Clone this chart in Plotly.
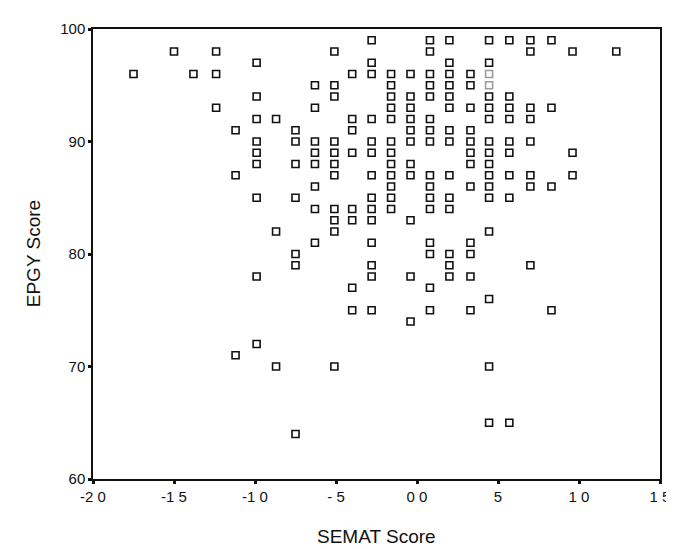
import plotly.graph_objects as go

# SEMAT score columns (z-score values) and EPGY scores observed at each
semat_columns = [-1.75, -1.50, -1.38, -1.24, -1.12, -0.99, -0.87, -0.75, -0.63, -0.51,
                 -0.40, -0.28, -0.16, -0.04, 0.08, 0.20, 0.33, 0.445, 0.57, 0.70,
                 0.83, 0.96, 1.23]
epgy_by_column = [
    [96],
    [98],
    [96],
    [98, 96, 93],
    [91, 87, 71],
    [97, 94, 92, 90, 89, 88, 85, 78, 72],
    [92, 82, 70],
    [91, 90, 88, 85, 80, 79, 64],
    [95, 93, 90, 89, 88, 86, 84, 81],
    [98, 95, 94, 90, 89, 88, 87, 84, 83, 82, 70],
    [96, 92, 91, 89, 84, 83, 77, 75],
    [99, 97, 96, 92, 90, 89, 87, 85, 84, 83, 81, 79, 78, 75],
    [96, 95, 94, 93, 92, 90, 89, 88, 87, 86, 85, 84],
    [96, 94, 93, 92, 91, 90, 88, 87, 83, 78, 74],
    [99, 98, 96, 95, 94, 92, 91, 90, 87, 86, 85, 84, 81, 80, 77, 75],
    [99, 97, 96, 95, 94, 93, 91, 90, 87, 85, 84, 80, 79, 78],
    [96, 95, 93, 91, 90, 89, 88, 86, 81, 80, 78, 75],
    [99, 97, 96, 95, 94, 93, 92, 90, 89, 88, 87, 86, 85, 82, 76, 70, 65],
    [99, 94, 93, 92, 90, 89, 87, 85, 65],
    [99, 98, 93, 92, 90, 87, 86, 79],
    [99, 93, 86, 75],
    [98, 89, 87],
    [98],
]
# points printed faintly (grey) in the original
faint_points = [(0.445, 96), (0.445, 95)]

x_tick_vals = [-2.0, -1.5, -1.0, -0.5, 0.0, 0.5, 1.0, 1.5]
x_tick_text = ["-2 0", "-1 5", "-1 0", "- 5", "0 0", "5", "1 0", "1 5"]
y_tick_vals = [60, 70, 80, 90, 100]

xs, ys, cols = [], [], []
for cx, vals in zip(semat_columns, epgy_by_column):
    for v in vals:
        xs.append(cx)
        ys.append(v)
        cols.append("#9a9a9a" if (cx, v) in faint_points else "#111111")

fig = go.Figure()
fig.add_trace(go.Scatter(
    x=xs, y=ys, mode="markers",
    marker=dict(symbol="square-open", size=7, color=cols, line=dict(width=1.6)),
    showlegend=False, hoverinfo="x+y",
))

font_family = "Liberation Sans, Arial, sans-serif"
axis_common = dict(
    showline=True, linecolor="#111111", linewidth=1.5, mirror=True,
    showgrid=False, zeroline=False,
    ticks="outside", ticklen=3, tickwidth=3, tickcolor="#111111",
    tickfont=dict(family=font_family, size=15, color="#111111"),
)
fig.update_layout(
    width=674, height=549,
    margin=dict(l=85, r=12, t=14, b=78),
    paper_bgcolor="white", plot_bgcolor="white",
    font=dict(family=font_family, color="#111111"),
    xaxis=dict(range=[-2.0, 1.5], tickvals=x_tick_vals, ticktext=x_tick_text, **axis_common),
    yaxis=dict(range=[60, 100], tickvals=y_tick_vals, **axis_common),
    annotations=[
        dict(text="SEMAT Score", xref="paper", yref="paper", x=0.5, y=-0.127,
             xanchor="center", yanchor="middle", showarrow=False,
             font=dict(family=font_family, size=19, color="#111111")),
        dict(text="EPGY Score", xref="paper", yref="paper", x=-0.1054, y=0.5,
             xanchor="center", yanchor="middle", showarrow=False, textangle=-90,
             font=dict(family=font_family, size=19, color="#111111")),
    ],
)

fig.write_html("out.html")
